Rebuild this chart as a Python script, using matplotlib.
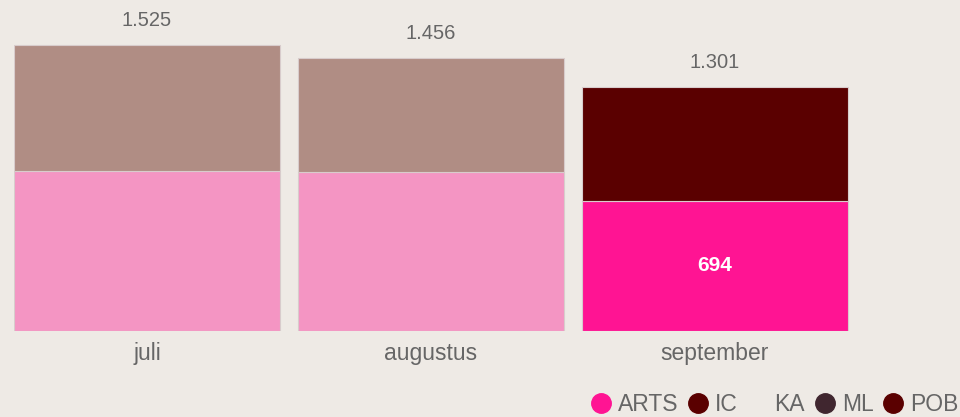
import matplotlib
matplotlib.use('Agg')
import matplotlib.pyplot as plt
from matplotlib.lines import Line2D

months = ['juli', 'augustus', 'september']
arts = [853, 848, 694]
pob = [672, 608, 607]
totals = ['1.525', '1.456', '1.301']

legend_names = ['ARTS', 'IC', 'KA', 'ML', 'POB']
legend_colors = ['#FF1493', '#5A0000', '#EEEAE5', '#40262F', '#5A0000']

BG = '#EEEAE5'
TXT = '#666666'
plt.rcParams['font.family'] = ['Liberation Sans', 'DejaVu Sans']

# first two months are dimmed (highlight on september)
arts_col = ['#F495C3', '#F495C3', '#FF1493']
pob_col = ['#B08D84', '#B08D84', '#5A0000']

fig = plt.figure(figsize=(9.6, 4.17), dpi=100, facecolor=BG)
ax = fig.add_axes([14/960, 1 - 331/417, 946/960, 331/417], facecolor=BG)

x = range(len(months))
w = 266 / 284
ax.bar(x, arts, width=w, color=arts_col, edgecolor='#D8CCCC', linewidth=0.8)
ax.bar(x, pob, bottom=arts, width=w, color=pob_col, edgecolor='#D8CCCC', linewidth=0.8)

for i, (a, p, t) in enumerate(zip(arts, pob, totals)):
    ax.annotate(t, (i, a + p), xytext=(0, 11), textcoords='offset points',
                ha='center', va='bottom', fontsize=14.5, color=TXT)

ax.text(2, arts[2] / 2, str(arts[2]), ha='center', va='center',
        fontsize=15, color='white', fontweight='bold')

ax.set_xlim(-w / 2, -w / 2 + 946 / 284)
ax.set_ylim(0, 331 / 0.1875)
ax.set_xticks(list(x))
ax.set_xticklabels(months, fontsize=16.5, color=TXT)
ax.tick_params(axis='x', length=0, pad=8)
ax.set_yticks([])
for s in ax.spines.values():
    s.set_visible(False)

handles = [Line2D([], [], marker='o', ls='', markersize=14, color=c) for c in legend_colors]
leg = fig.legend(handles, legend_names, loc='lower right', bbox_to_anchor=(1.008, -0.02),
                 ncol=5, frameon=False, fontsize=16.5, handletextpad=0.3,
                 columnspacing=0.4, handlelength=0.9, borderaxespad=0.0)
for t in leg.get_texts():
    t.set_color(TXT)

fig.savefig('out.png', dpi=100, facecolor=BG)
